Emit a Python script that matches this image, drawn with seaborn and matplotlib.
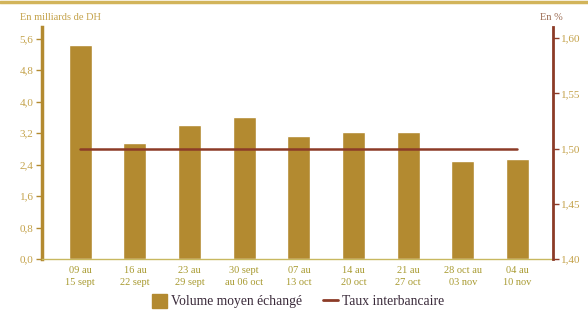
import matplotlib
matplotlib.use("Agg")
import matplotlib.pyplot as plt
import seaborn as sns
import pandas as pd
from matplotlib.patches import Patch
from matplotlib.lines import Line2D

categories = ["09 au\n15 sept", "16 au\n22 sept", "23 au\n29 sept", "30 sept\nau 06 oct",
              "07 au\n13 oct", "14 au\n20 oct", "21 au\n27 oct", "28 oct au\n03 nov", "04 au\n10 nov"]
volume = [5.43, 2.94, 3.41, 3.60, 3.13, 3.22, 3.22, 2.48, 2.54]
taux = [1.50, 1.50, 1.50, 1.50, 1.50, 1.50, 1.50, 1.50, 1.50]
left_ticks = [0.0, 0.8, 1.6, 2.4, 3.2, 4.0, 4.8, 5.6]
right_ticks = [1.40, 1.45, 1.50, 1.55, 1.60]

sns.set_theme(style="white")
plt.rcParams['font.family'] = ['Liberation Serif', 'DejaVu Serif']

BAR = "#b38a30"
LINE = "#8c3b27"
TICK = "#c4a24a"
XLAB = "#a89a30"

df = pd.DataFrame({"cat": categories, "volume": volume, "taux": taux, "x": range(len(categories))})

fig = plt.figure(figsize=(5.88, 3.13), dpi=100)
ax = fig.add_axes([42/588, 1-259/313, (553-42)/588, (259-27)/313])
sns.barplot(data=df, x="cat", y="volume", color=BAR, saturation=1, width=0.42, ax=ax)
ax.set_xlim(-0.70, 8.65)
ax.set_ylim(0, 5.9)
ax.set_yticks(left_ticks)
ax.set_yticklabels([f"{v:.1f}".replace(".", ",") for v in left_ticks], color=TICK, fontsize=8)
ax.set_xticks(range(len(categories)))
ax.set_xticklabels(categories, color=XLAB, fontsize=7.5, linespacing=1.5)
ax.tick_params(axis="x", length=0, pad=5)
ax.tick_params(axis="y", left=True, length=4, width=1, color=BAR, pad=2)
ax.set_xlabel("")
ax.set_ylabel("")
for s in ["top", "right"]:
    ax.spines[s].set_visible(False)
ax.spines["left"].set_color(BAR)
ax.spines["left"].set_linewidth(2.5)
ax.spines["bottom"].set_color("#c8b860")
ax.spines["bottom"].set_linewidth(1)

ax2 = ax.twinx()
sns.lineplot(data=df, x="x", y="taux", color=LINE, linewidth=1.8, ax=ax2)
ax2.set_ylim(1.40, 1.61)
ax2.set_xlim(-0.70, 8.65)
ax2.set_yticks(right_ticks)
ax2.set_yticklabels([f"{v:.2f}".replace(".", ",") for v in right_ticks], color=TICK, fontsize=8)
ax2.tick_params(axis="y", right=True, length=4, width=1, color=LINE, pad=2)
ax2.set_ylabel("")
ax2.set_xlabel("")
for s in ["top", "left", "bottom"]:
    ax2.spines[s].set_visible(False)
ax2.spines["right"].set_color(LINE)
ax2.spines["right"].set_linewidth(2)

fig.text(20/588, 1-17/313, "En milliards de DH", color=TICK, fontsize=7.5, va="center")
fig.text(540/588, 1-17/313, "En %", color="#9a6a50", fontsize=7.5, va="center")

fig.add_artist(Line2D([0, 1], [1-1.5/313, 1-1.5/313], color="#d2b45a", linewidth=2.5, transform=fig.transFigure))

handles = [Patch(facecolor=BAR, edgecolor=BAR), Line2D([0], [0], color=LINE, linewidth=2)]
fig.legend(handles, ["Volume moyen échangé", "Taux interbancaire"], loc="center",
           bbox_to_anchor=(298/588, 1-301/313), ncol=2, frameon=False, fontsize=9.8,
           handlelength=1.1, handleheight=1.2, columnspacing=1.5, handletextpad=0.3,
           labelcolor="#3a2a3a")

fig.savefig("out.png", dpi=100)
